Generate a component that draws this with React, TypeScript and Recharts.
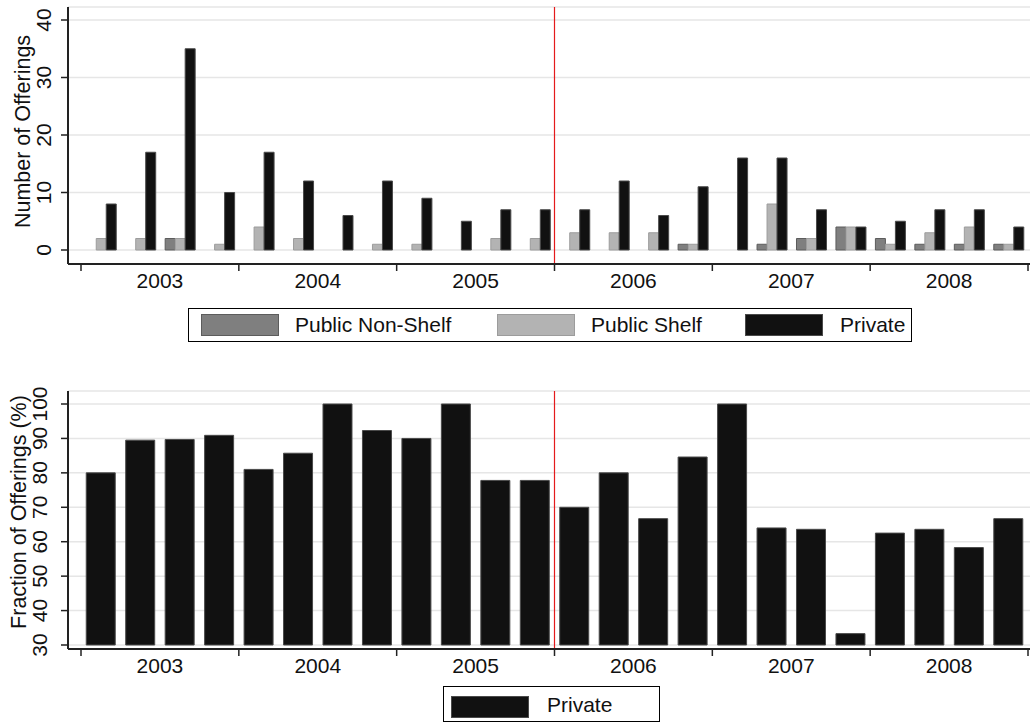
import React from "react"
import { BarChart, Bar, XAxis, YAxis, CartesianGrid, ReferenceLine, Label } from "recharts"

// quarterly offerings, 2003q1 .. 2008q4
const years = ["2003", "2004", "2005", "2006", "2007", "2008"]
const quarters = years.flatMap((y) => ["q1", "q2", "q3", "q4"].map((q) => y + q))

const publicNonShelf = [0, 0, 2, 0, 0, 0, 0, 0, 0, 0, 0, 0, 0, 0, 0, 1, 0, 1, 2, 4, 2, 1, 1, 1]
const publicShelf = [2, 2, 2, 1, 4, 2, 0, 1, 1, 0, 2, 2, 3, 3, 3, 1, 0, 8, 2, 4, 1, 3, 4, 1]
const privateCount = [8, 17, 35, 10, 17, 12, 6, 12, 9, 5, 7, 7, 7, 12, 6, 11, 16, 16, 7, 4, 5, 7, 7, 4]
const privateShare = [80, 89.5, 89.7, 90.9, 81, 85.7, 100, 92.3, 90, 100, 77.8, 77.8, 70, 80, 66.7, 84.6, 100, 64, 63.6, 33.3, 62.5, 63.6, 58.3, 66.7]

const countTicks = [0, 10, 20, 30, 40]
const shareTicks = [30, 40, 50, 60, 70, 80, 90, 100]
const breakQuarter = "2006q1"

const countRows = quarters.map((q, i) => ({
  quarter: q,
  nonShelf: publicNonShelf[i],
  shelf: publicShelf[i],
  priv: privateCount[i],
}))
const shareRows = quarters.map((q, i) => ({ quarter: q, priv: privateShare[i] }))

const FONT = "'Liberation Sans', Arial, sans-serif"
const FS = 21
const INK = "#111"
const AXIS = "#222"
const CHART_W = 1041
const PAD = { left: 13, right: 13 }
const HALF_BAND = (CHART_W - 68 - 26) / quarters.length / 2

// category axis: tick marks on year boundaries, year label between q2 and q3
const YearTick = (props: any) => {
  const { x, y, payload } = props
  const i = payload.index
  const off = payload.offset || HALF_BAND
  const parts: React.ReactNode[] = []
  if (i % 4 === 0) {
    parts.push(<line key="l" x1={x - off} x2={x - off} y1={y} y2={y + 7} stroke={AXIS} strokeWidth={1.5} />)
  }
  if (i === quarters.length - 1) {
    parts.push(<line key="r" x1={x + off} x2={x + off} y1={y} y2={y + 7} stroke={AXIS} strokeWidth={1.5} />)
  }
  if (i % 4 === 1) {
    parts.push(
      <text key="t" x={x + off} y={y + 24} textAnchor="middle" fontSize={FS} fontFamily={FONT} fill={INK}>
        {years[(i - 1) / 4]}
      </text>
    )
  }
  return <g>{parts}</g>
}

const makeValueTick = (offset: number) => (props: any) => {
  const { x, y, payload } = props
  const bx = x - offset
  return (
    <g>
      <line x1={x - 7} x2={x} y1={y} y2={y} stroke={AXIS} strokeWidth={1.5} />
      <text x={bx} y={y} transform={`rotate(-90 ${bx} ${y})`} textAnchor="middle" fontSize={FS} fontFamily={FONT} fill={INK}>
        {payload.value}
      </text>
    </g>
  )
}

const makeTitle = (text: string, bx: number, shift: number) => (props: any) => {
  const vb = props.viewBox
  const cy = vb.y + vb.height / 2 + shift
  return (
    <text x={bx} y={cy} transform={`rotate(-90 ${bx} ${cy})`} textAnchor="middle" fontSize={21.5} fontFamily={FONT} fill={INK}>
      {text}
    </text>
  )
}

const Swatch = ({ color, border }: { color: string; border: string }) => (
  <div style={{ width: 78, height: 22, background: color, border: `1px solid ${border}`, boxSizing: "border-box" }} />
)

const legendText: React.CSSProperties = { fontFamily: FONT, fontSize: FS, color: INK, lineHeight: "22px" }

const App = () => {
  return (
    <div style={{ position: "absolute", left: 0, top: 0, width: 1030, height: 727, overflow: "hidden", background: "#fff" }}>
      {/* Top panel: counts */}
      <div style={{ position: "absolute", left: 0, top: 0 }}>
        <BarChart width={CHART_W} height={294} data={countRows} margin={{ top: 7, right: 0, bottom: 0, left: 0 }} barCategoryGap="13.3%" barGap={0}>
          <CartesianGrid horizontal vertical={false} stroke="#e6e6e6" strokeWidth={1.5} xAxisId="q" />
          <XAxis xAxisId="q" dataKey="quarter" padding={PAD} height={30} interval={0}
            tickLine={false} tickSize={0} tickMargin={0} tick={YearTick} axisLine={{ stroke: AXIS, strokeWidth: 2 }} />
          <XAxis xAxisId="t" dataKey="quarter" orientation="top" height={0} tick={false} tickLine={false}
            axisLine={{ stroke: AXIS, strokeWidth: 2 }} />
          <YAxis width={68} domain={[0, 40]} ticks={countTicks} interval={0} padding={{ top: 13, bottom: 14 }}
            tickLine={false} tickSize={0} tickMargin={0} tick={makeValueTick(17)} axisLine={{ stroke: AXIS, strokeWidth: 2 }}>
            <Label content={makeTitle("Number of Offerings", 30, -4)} />
          </YAxis>
          <Bar xAxisId="q" dataKey="nonShelf" fill="#7f7f7f" stroke="#5c5c5c" strokeWidth={1} isAnimationActive={false} />
          <Bar xAxisId="q" dataKey="shelf" fill="#b3b3b3" stroke="#9c9c9c" strokeWidth={1} isAnimationActive={false} />
          <Bar xAxisId="q" dataKey="priv" fill={INK} stroke="#4a4a4a" strokeWidth={1} isAnimationActive={false} />
          <ReferenceLine xAxisId="q" x={breakQuarter} position="start" stroke="#e41a1c" strokeWidth={1.2} />
        </BarChart>
      </div>

      {/* Top legend */}
      <div style={{ position: "absolute", left: 188, top: 308, width: 724, height: 34, border: "1px solid #000", boxSizing: "border-box" }}>
        <div style={{ position: "absolute", left: 12, top: 5 }}><Swatch color="#7f7f7f" border="#5c5c5c" /></div>
        <div style={{ position: "absolute", left: 106, top: 5, ...legendText }}>Public Non-Shelf</div>
        <div style={{ position: "absolute", left: 308, top: 5 }}><Swatch color="#b3b3b3" border="#9c9c9c" /></div>
        <div style={{ position: "absolute", left: 402, top: 5, ...legendText }}>Public Shelf</div>
        <div style={{ position: "absolute", left: 556, top: 5 }}><Swatch color={INK} border="#4a4a4a" /></div>
        <div style={{ position: "absolute", left: 651, top: 5, ...legendText }}>Private</div>
      </div>

      {/* Bottom panel: private share */}
      <div style={{ position: "absolute", left: 0, top: 383 }}>
        <BarChart width={CHART_W} height={296} data={shareRows} margin={{ top: 8, right: 0, bottom: 0, left: 0 }} barCategoryGap="13.3%">
          <CartesianGrid horizontal vertical={false} stroke="#e6e6e6" strokeWidth={1.5} xAxisId="q" />
          <XAxis xAxisId="q" dataKey="quarter" padding={PAD} height={30} interval={0}
            tickLine={false} tickSize={0} tickMargin={0} tick={YearTick} axisLine={{ stroke: AXIS, strokeWidth: 2 }} />
          <XAxis xAxisId="t" dataKey="quarter" orientation="top" height={0} tick={false} tickLine={false}
            axisLine={{ stroke: AXIS, strokeWidth: 2 }} />
          <YAxis width={68} domain={[30, 100]} ticks={shareTicks} interval={0} padding={{ top: 13, bottom: 4 }}
            tickLine={false} tickSize={0} tickMargin={0} tick={makeValueTick(21)} axisLine={{ stroke: AXIS, strokeWidth: 2 }}>
            <Label content={makeTitle("Fraction of Offerings (%)", 26, -8)} />
          </YAxis>
          <Bar xAxisId="q" dataKey="priv" fill={INK} stroke="#4a4a4a" strokeWidth={1} isAnimationActive={false} />
          <ReferenceLine xAxisId="q" x={breakQuarter} position="start" stroke="#e41a1c" strokeWidth={1.2} />
        </BarChart>
      </div>

      {/* Bottom legend */}
      <div style={{ position: "absolute", left: 443, top: 686, width: 217, height: 36, border: "1px solid #000", boxSizing: "border-box" }}>
        <div style={{ position: "absolute", left: 7, top: 9 }}><Swatch color={INK} border="#4a4a4a" /></div>
        <div style={{ position: "absolute", left: 103, top: 7, ...legendText }}>Private</div>
      </div>
    </div>
  )
}

export default App
